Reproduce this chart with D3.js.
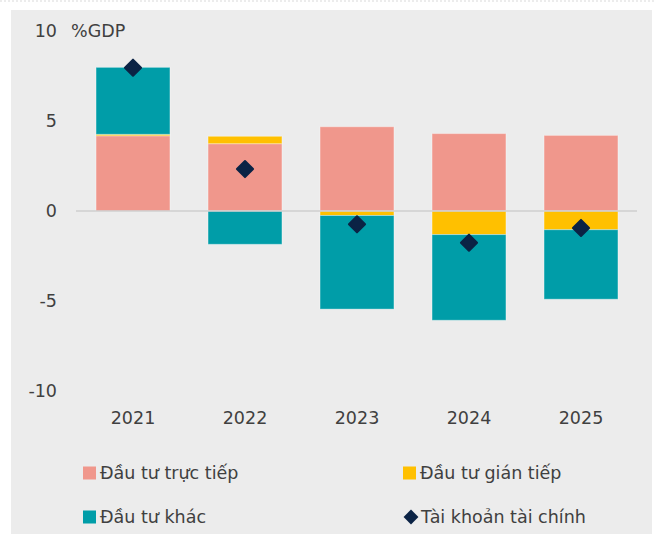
<!DOCTYPE html>
<html>
<head>
<meta charset="utf-8">
<script src="https://cdn.jsdelivr.net/npm/d3@7"></script>
<style>
  body { margin: 0; background: #fff; }
  text { font-family: "DejaVu Sans", sans-serif; fill: #404040; }
</style>
</head>
<body>
<div id="chart"></div>
<script>
// values, % of GDP
var years = ["2021", "2022", "2023", "2024", "2025"];
var direct = [4.18, 3.74, 4.68, 4.3, 4.2];
var portfolio = [0.08, 0.41, -0.25, -1.31, -1.04];
var other = [3.72, -1.85, -5.2, -4.76, -3.86];
var financialAccount = [7.96, 2.33, -0.74, -1.76, -0.94];
var yTicks = [10, 5, 0, -5, -10];

var seriesNames = ["Đầu tư trực tiếp", "Đầu tư gián tiếp", "Đầu tư khác", "Tài khoản tài chính"];
var colors = ["#F0978C", "#FFC000", "#009DA8", "#0B2345"];

var width = 654, height = 534;
var fontSize = "17.5px";

var svg = d3.select("#chart").append("svg")
	.attr("width", width)
	.attr("height", height);

// top dashed rule + gray panel
svg.append("line")
	.attr("x1", 0).attr("x2", width).attr("y1", 1).attr("y2", 1)
	.attr("stroke", "#d9d9d9").attr("stroke-dasharray", "2,2");
svg.append("rect")
	.attr("x", 11).attr("y", 10).attr("width", 641).attr("height", height - 10)
	.attr("fill", "#ececec");

var x = d3.scaleBand()
	.domain(years)
	.range([77, 637])
	.paddingInner(0.34)
	.paddingOuter(0.17);

var y = d3.scaleLinear()
	.domain([-10, 10])
	.range([391, 31]);

// stack: positives up from 0, negatives down from 0
var layers = [direct, portfolio, other];
var rects = [];
years.forEach(function(yr, i) {
	var pos = 0, neg = 0;
	layers.forEach(function(arr, k) {
		var v = arr[i];
		var y0, y1;
		if (v >= 0) { y0 = pos; y1 = pos + v; pos = y1; }
		else { y0 = neg; y1 = neg + v; neg = y1; }
		rects.push({year: yr, k: k, y0: y0, y1: y1});
	});
});

svg.append("g")
	.selectAll("rect")
	.data(rects)
	.enter()
	.append("rect")
		.attr("x", function(d) { return x(d.year); })
		.attr("width", x.bandwidth())
		.attr("y", function(d) { return y(Math.max(d.y0, d.y1)); })
		.attr("height", function(d) { return Math.abs(y(d.y0) - y(d.y1)); })
		.attr("fill", function(d) { return colors[d.k]; })
		.attr("stroke", "rgba(255,255,255,0.35)")
		.attr("stroke-width", 1);

// zero line
svg.append("line")
	.attr("x1", 76).attr("x2", 637)
	.attr("y1", y(0)).attr("y2", y(0))
	.attr("stroke", "#cfcfcf").attr("stroke-width", 1.5);

// diamonds
svg.append("g")
	.selectAll("path")
	.data(financialAccount)
	.enter()
	.append("path")
		.attr("d", d3.symbol().type(d3.symbolSquare).size(130))
		.attr("transform", function(d, i) {
			return "translate(" + (x(years[i]) + x.bandwidth() / 2) + "," + y(d) + ") rotate(45)";
		})
		.attr("fill", colors[3])
		.attr("stroke", colors[3])
		.attr("stroke-linejoin", "round")
		.attr("stroke-width", 2);

// y axis labels (plain hyphen for negatives, as in the source)
var yAxis = d3.axisLeft(y).tickValues(yTicks).tickSize(0).tickPadding(0)
	.tickFormat(function(d) { return String(d); });
var yg = svg.append("g").attr("transform", "translate(57,0)").call(yAxis);
yg.select(".domain").remove();
yg.selectAll("text").style("font-size", fontSize).attr("fill", "#404040");

svg.append("text")
	.attr("x", 71).attr("y", y(10)).attr("dy", "0.32em")
	.style("font-size", fontSize)
	.text("%GDP");

// x axis labels
var xAxis = d3.axisBottom(x).tickSize(0).tickPadding(0);
var xg = svg.append("g").attr("transform", "translate(0,412)").call(xAxis);
xg.select(".domain").remove();
xg.selectAll("text").style("font-size", fontSize).attr("fill", "#404040");
xg.attr("font-family", null);
yg.attr("font-family", null);

// legend
var legend = [
	{name: seriesNames[0], color: colors[0], x: 83, y: 473, shape: "rect"},
	{name: seriesNames[1], color: colors[1], x: 403, y: 473, shape: "rect"},
	{name: seriesNames[2], color: colors[2], x: 83, y: 517, shape: "rect"},
	{name: seriesNames[3], color: colors[3], x: 403, y: 517, shape: "diamond"}
];
var lg = svg.append("g").selectAll("g").data(legend).enter().append("g")
	.attr("transform", function(d) { return "translate(" + d.x + "," + d.y + ")"; });
lg.filter(function(d) { return d.shape == "rect"; })
	.append("rect")
		.attr("x", 0).attr("y", -6.5).attr("width", 13).attr("height", 13)
		.attr("fill", function(d) { return d.color; });
lg.filter(function(d) { return d.shape == "diamond"; })
	.append("path")
		.attr("d", d3.symbol().type(d3.symbolSquare).size(110))
		.attr("transform", "translate(8,0) rotate(45)")
		.attr("fill", function(d) { return d.color; });
lg.append("text")
	.attr("x", function(d) { return d.shape == "rect" ? 17 : 18; })
	.attr("dy", "0.35em")
	.style("font-size", fontSize)
	.text(function(d) { return d.name; });
</script>
</body>
</html>
